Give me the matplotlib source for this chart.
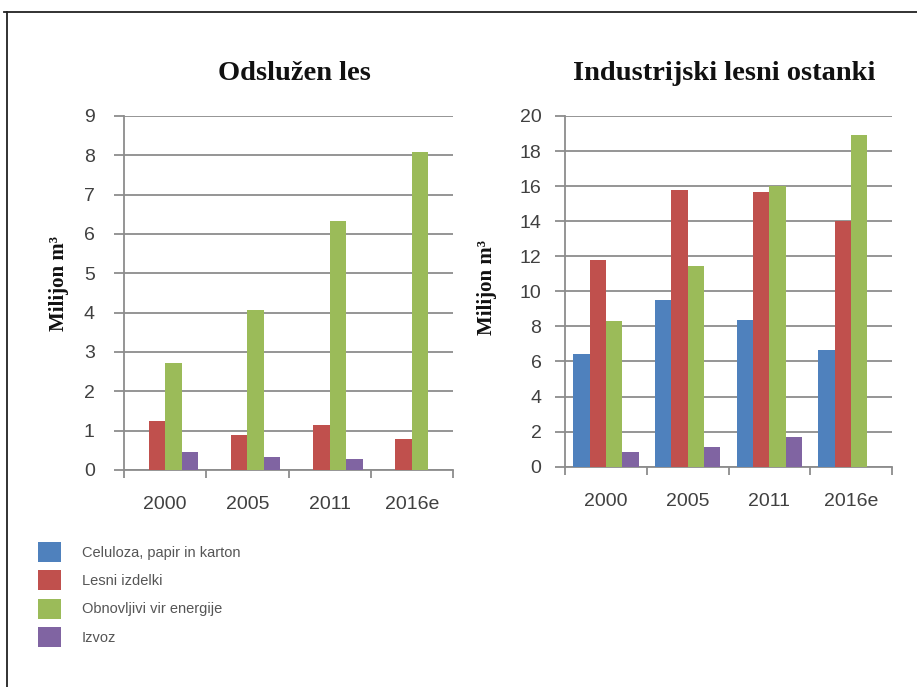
import matplotlib
matplotlib.use("Agg")
import matplotlib.pyplot as plt
import numpy as np
from matplotlib.patches import Patch
from matplotlib.lines import Line2D
from matplotlib.ticker import FixedLocator

years = ["2000", "2005", "2011", "2016e"]
series_names = ["Celuloza, papir in karton", "Lesni izdelki",
                "Obnovljivi vir energije", "Izvoz"]
colors = ["#4F81BD", "#C0504D", "#9BBB59", "#8064A2"]

# Odslužen les
left_celuloza = [0, 0, 0, 0]
left_lesni = [1.25, 0.9, 1.15, 0.8]
left_obnovljivi = [2.72, 4.08, 6.32, 8.08]
left_izvoz = [0.45, 0.33, 0.28, 0]

# Industrijski lesni ostanki
right_celuloza = [6.4, 9.5, 8.35, 6.65]
right_lesni = [11.8, 15.8, 15.65, 14.0]
right_obnovljivi = [8.3, 11.45, 16.0, 18.9]
right_izvoz = [0.82, 1.1, 1.68, 0]

W, H = 917, 687
fig = plt.figure(figsize=(W / 100, H / 100), dpi=100)
fig.patch.set_facecolor("white")

tick_col = "#404040"
grid_col = "#8c8c8c"


def make_chart(rect, title, data, ymax, ystep, title_xy, ylab_xy, ypad, xfs, yfs):
    ax = fig.add_axes(rect)
    x = np.arange(len(years))
    bw = 0.2
    for i, (vals, c) in enumerate(zip(data, colors)):
        ax.bar(x + (i - 1.5) * bw, vals, width=bw, color=c, zorder=3)
    ax.set_xlim(-0.5, len(years) - 0.5)
    ax.set_ylim(0, ymax)
    yt = np.arange(0, ymax + 0.001, ystep)
    ax.set_yticks(yt)
    ax.set_yticklabels([str(int(v)) for v in yt])
    ax.grid(axis="y", color=grid_col, linewidth=1.3, zorder=0)
    for s in ["top", "right"]:
        ax.spines[s].set_visible(False)
    for s in ["left", "bottom"]:
        ax.spines[s].set_color(grid_col)
        ax.spines[s].set_linewidth(1.3)
    ax.tick_params(axis="y", length=7, width=1.3, color=grid_col, pad=ypad,
                   labelsize=yfs, labelcolor=tick_col)
    ax.set_xticks(x)
    ax.set_xticklabels(years)
    ax.tick_params(axis="x", which="major", length=0, pad=19, labelsize=xfs,
                   labelcolor=tick_col)
    ax.xaxis.set_minor_locator(FixedLocator(np.arange(-0.5, len(years), 1.0)))
    ax.tick_params(axis="x", which="minor", length=6, width=1.3, color=grid_col)
    for lab in ax.get_xticklabels() + ax.get_yticklabels():
        lab.set_fontfamily("Liberation Sans")
    fig.text(title_xy[0] / W, 1 - title_xy[1] / H, title, ha="center", va="center",
             fontsize=20.5, fontweight="bold", fontfamily="Liberation Serif",
             color="#111111")
    fig.text(ylab_xy[0] / W, 1 - ylab_xy[1] / H, "Milijon m³", ha="center",
             va="center", rotation=90, fontsize=15, fontweight="bold",
             fontfamily="Liberation Serif", color="#111111")
    return ax


make_chart([124 / W, 1 - 470 / H, (453 - 124) / W, (470 - 116) / H],
           "Odslužen les",
           [left_celuloza, left_lesni, left_obnovljivi, left_izvoz],
           9, 1, (294, 73), (59, 284), 14, 14, 14)

make_chart([565 / W, 1 - 466.7 / H, (892 - 565) / W, (466.7 - 116) / H],
           "Industrijski lesni ostanki",
           [right_celuloza, right_lesni, right_obnovljivi, right_izvoz],
           20, 2, (724, 73), (487, 287), 10, 14, 14)

handles = [Patch(facecolor=c, edgecolor="none") for c in colors]
fig.legend(handles, series_names, loc="upper left",
           bbox_to_anchor=(38 / W, 1 - 542 / H), frameon=False, borderpad=0,
           borderaxespad=0, handlelength=1.6, handleheight=1.7,
           labelspacing=0.6, handletextpad=1.4, labelcolor="#555555",
           prop={"family": "Liberation Sans", "size": 10.5})

fig.add_artist(Line2D([4 / W, 1], [1 - 12 / H, 1 - 12 / H], color="#222222",
                      linewidth=1.3, transform=fig.transFigure))
fig.add_artist(Line2D([7 / W, 7 / W], [1 - 12 / H, 0], color="#222222",
                      linewidth=1.3, transform=fig.transFigure))

fig.savefig("out.png", dpi=100, facecolor="white")
